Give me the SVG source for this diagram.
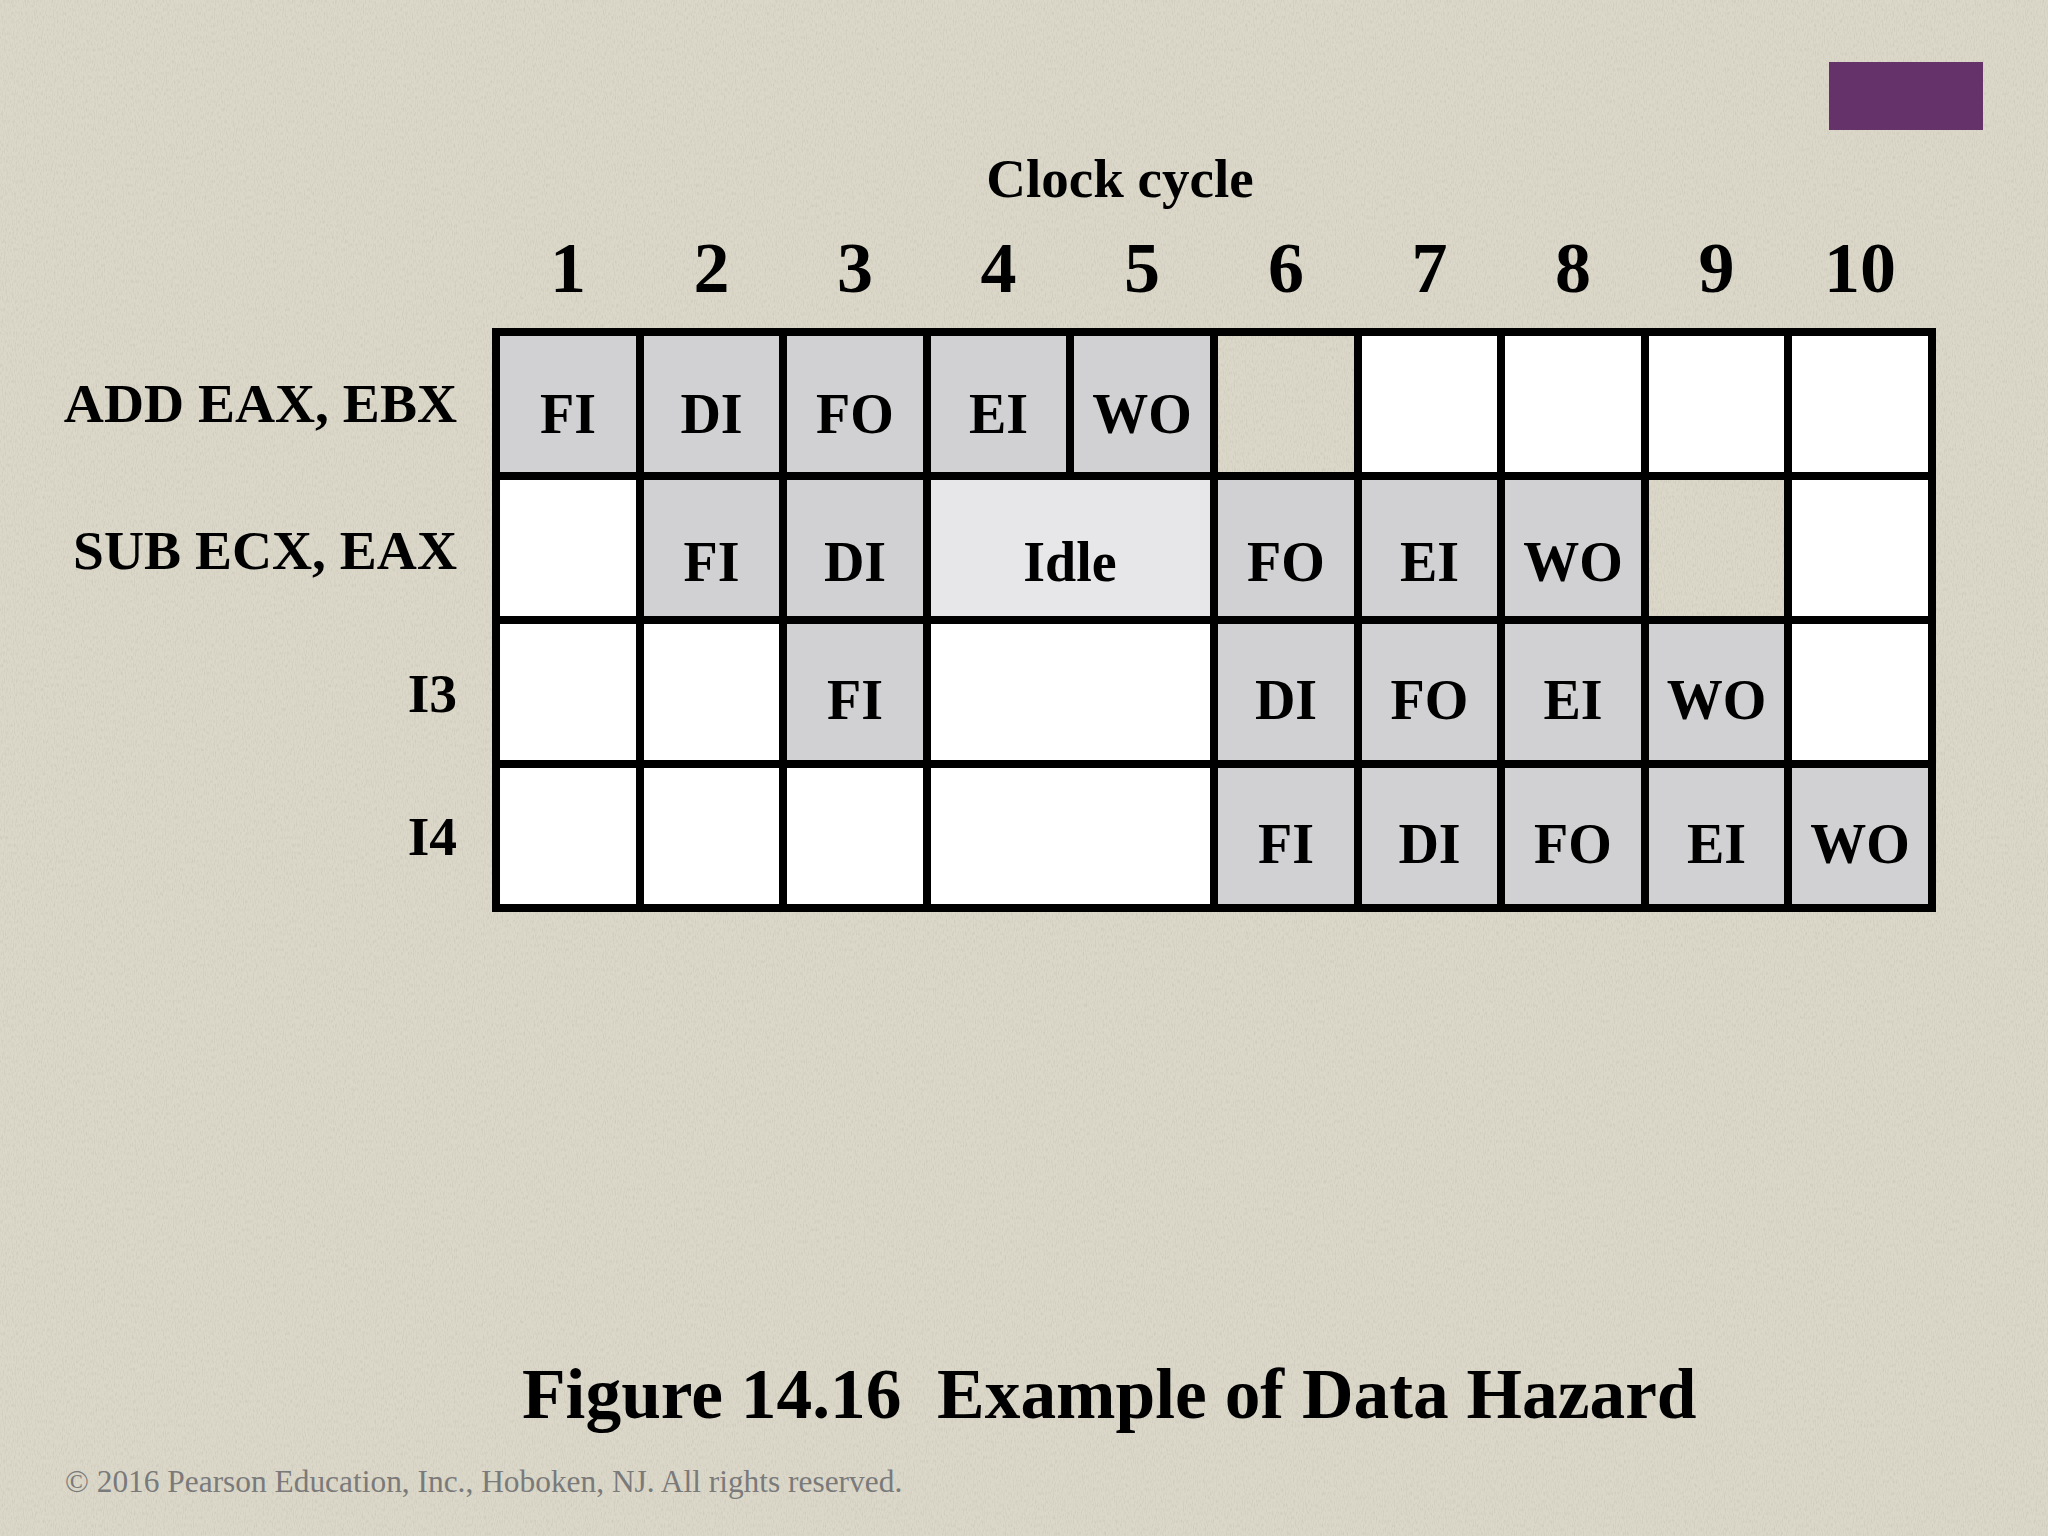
<svg xmlns="http://www.w3.org/2000/svg" width="2048" height="1536" viewBox="0 0 2048 1536">
  <defs>
    <filter id="grain" x="0" y="0" width="100%" height="100%">
      <feTurbulence type="fractalNoise" baseFrequency="0.9 0.25" numOctaves="2" seed="7" result="n"/>
      <feColorMatrix in="n" type="matrix" values="0 0 0 0 0.45  0 0 0 0 0.43  0 0 0 0 0.38  0 0 0 -2.2 1.25"/>
    </filter>
    <style>
      .bg { fill: #dcd8c9; }
      .g { fill: #d1d1d3; }
      .w { fill: #ffffff; }
      .idle { fill: #e7e7e9; }
      .line { stroke: #000000; stroke-width: 8; fill: none; stroke-linecap: square; }
      text { font-family: "Liberation Serif", "Times New Roman", serif; fill: #000000; }
      .cell { font-size: 56px; font-weight: bold; text-anchor: middle; }
      .lbl { font-size: 55.5px; font-weight: bold; text-anchor: end; }
      .num { font-size: 72px; font-weight: bold; text-anchor: middle; }
      .hdr { font-size: 55px; font-weight: bold; text-anchor: middle; }
      .title { font-size: 71.4px; font-weight: bold; }
      .copy { font-size: 31.4px; fill: #7a7a7a; }
    </style>
  </defs>

  <rect class="bg" x="0" y="0" width="2048" height="1536"/>
  <rect x="0" y="0" width="2048" height="1536" filter="url(#grain)" opacity="0.35"/>

  <rect id="accent" x="1829" y="62" width="154" height="68" fill="#65326a"/>

  <g id="header">
    <text class="hdr" x="1120" y="197">Clock cycle</text>
    <text class="num" x="568" y="292">1</text>
    <text class="num" x="711.5" y="292">2</text>
    <text class="num" x="855" y="292">3</text>
    <text class="num" x="998.5" y="292">4</text>
    <text class="num" x="1142" y="292">5</text>
    <text class="num" x="1286" y="292">6</text>
    <text class="num" x="1429.5" y="292">7</text>
    <text class="num" x="1573" y="292">8</text>
    <text class="num" x="1716.5" y="292">9</text>
    <text class="num" x="1860" y="292">10</text>
  </g>

  <g id="row-labels">
    <text class="lbl" x="457" y="422">ADD EAX, EBX</text>
    <text class="lbl" x="457" y="569">SUB ECX, EAX</text>
    <text class="lbl" x="457" y="712">I3</text>
    <text class="lbl" x="457" y="855">I4</text>
  </g>

  <!-- Row 1: ADD EAX, EBX -->
  <g id="r1">
    <g id="r1c1"><rect class="g" x="496" y="332" width="144" height="144"/><text class="cell" x="568" y="433">FI</text></g>
    <g id="r1c2"><rect class="g" x="640" y="332" width="143" height="144"/><text class="cell" x="711.5" y="433">DI</text></g>
    <g id="r1c3"><rect class="g" x="783" y="332" width="144" height="144"/><text class="cell" x="855" y="433">FO</text></g>
    <g id="r1c4"><rect class="g" x="927" y="332" width="143" height="144"/><text class="cell" x="998.5" y="433">EI</text></g>
    <g id="r1c5"><rect class="g" x="1070" y="332" width="144" height="144"/><text class="cell" x="1142" y="433">WO</text></g>
    <g id="r1c7"><rect class="w" x="1358" y="332" width="143" height="144"/></g>
    <g id="r1c8"><rect class="w" x="1501" y="332" width="144" height="144"/></g>
    <g id="r1c9"><rect class="w" x="1645" y="332" width="143" height="144"/></g>
    <g id="r1c10"><rect class="w" x="1788" y="332" width="144" height="144"/></g>
  </g>

  <!-- Row 2: SUB ECX, EAX -->
  <g id="r2">
    <g id="r2c1"><rect class="w" x="496" y="476" width="144" height="144"/></g>
    <g id="r2c2"><rect class="g" x="640" y="476" width="143" height="144"/><text class="cell" x="711.5" y="581">FI</text></g>
    <g id="r2c3"><rect class="g" x="783" y="476" width="144" height="144"/><text class="cell" x="855" y="581">DI</text></g>
    <g id="r2idle"><rect class="idle" x="927" y="476" width="287" height="144"/><text class="cell" x="1070" y="581">Idle</text></g>
    <g id="r2c6"><rect class="g" x="1214" y="476" width="144" height="144"/><text class="cell" x="1286" y="581">FO</text></g>
    <g id="r2c7"><rect class="g" x="1358" y="476" width="143" height="144"/><text class="cell" x="1429.5" y="581">EI</text></g>
    <g id="r2c8"><rect class="g" x="1501" y="476" width="144" height="144"/><text class="cell" x="1573" y="581">WO</text></g>
    <g id="r2c10"><rect class="w" x="1788" y="476" width="144" height="144"/></g>
  </g>

  <!-- Row 3: I3 -->
  <g id="r3">
    <g id="r3c1"><rect class="w" x="496" y="620" width="144" height="144"/></g>
    <g id="r3c2"><rect class="w" x="640" y="620" width="143" height="144"/></g>
    <g id="r3c3"><rect class="g" x="783" y="620" width="144" height="144"/><text class="cell" x="855" y="719">FI</text></g>
    <g id="r3c45"><rect class="w" x="927" y="620" width="287" height="144"/></g>
    <g id="r3c6"><rect class="g" x="1214" y="620" width="144" height="144"/><text class="cell" x="1286" y="719">DI</text></g>
    <g id="r3c7"><rect class="g" x="1358" y="620" width="143" height="144"/><text class="cell" x="1429.5" y="719">FO</text></g>
    <g id="r3c8"><rect class="g" x="1501" y="620" width="144" height="144"/><text class="cell" x="1573" y="719">EI</text></g>
    <g id="r3c9"><rect class="g" x="1645" y="620" width="143" height="144"/><text class="cell" x="1716.5" y="719">WO</text></g>
    <g id="r3c10"><rect class="w" x="1788" y="620" width="144" height="144"/></g>
  </g>

  <!-- Row 4: I4 -->
  <g id="r4">
    <g id="r4c1"><rect class="w" x="496" y="764" width="144" height="144"/></g>
    <g id="r4c2"><rect class="w" x="640" y="764" width="143" height="144"/></g>
    <g id="r4c3"><rect class="w" x="783" y="764" width="144" height="144"/></g>
    <g id="r4c45"><rect class="w" x="927" y="764" width="287" height="144"/></g>
    <g id="r4c6"><rect class="g" x="1214" y="764" width="144" height="144"/><text class="cell" x="1286" y="863">FI</text></g>
    <g id="r4c7"><rect class="g" x="1358" y="764" width="143" height="144"/><text class="cell" x="1429.5" y="863">DI</text></g>
    <g id="r4c8"><rect class="g" x="1501" y="764" width="144" height="144"/><text class="cell" x="1573" y="863">FO</text></g>
    <g id="r4c9"><rect class="g" x="1645" y="764" width="143" height="144"/><text class="cell" x="1716.5" y="863">EI</text></g>
    <g id="r4c10"><rect class="g" x="1788" y="764" width="144" height="144"/><text class="cell" x="1860" y="863">WO</text></g>
  </g>

  <g id="grid-lines">
    <rect class="line" x="496" y="332" width="1436" height="576"/>
    <path class="line" d="M496 476H1932M496 620H1932M496 764H1932"/>
    <path class="line" d="M640 332V908M783 332V908M927 332V908M1214 332V908M1358 332V908M1501 332V908M1645 332V908M1788 332V908M1070 332V476"/>
  </g>

  <text class="title" x="522" y="1418" xml:space="preserve">Figure 14.16  Example of Data Hazard</text>
  <text class="copy" x="65" y="1492">© 2016 Pearson Education, Inc., Hoboken, NJ. All rights reserved.</text>
</svg>
